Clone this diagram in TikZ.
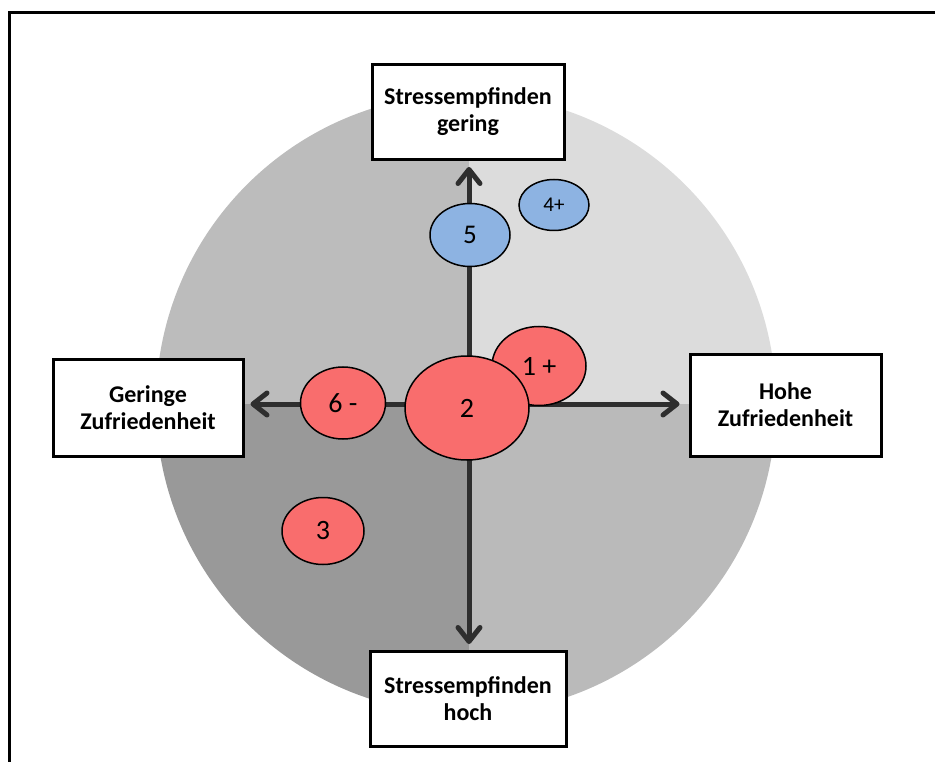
\documentclass[tikz,border=0pt]{standalone}
\usepackage{fontspec}
\setmainfont{Carlito}
\usetikzlibrary{arrows.meta,shapes.geometric}

\definecolor{quadTL}{HTML}{BCBCBC}
\definecolor{quadTR}{HTML}{DCDCDC}
\definecolor{quadBL}{HTML}{999999}
\definecolor{quadBR}{HTML}{BABABA}
\definecolor{axisgray}{HTML}{2E2E2E}
\definecolor{redfill}{HTML}{F96D6D}
\definecolor{bluefill}{HTML}{8DB3E2}

\tikzset{
  labelbox/.style={draw=black, line width=3pt, fill=white, align=center,
    inner sep=0pt, minimum width=192pt, minimum height=95pt,
    font=\bfseries\fontsize{24}{27}\selectfont},
  axisarrow/.style={draw=axisgray, line width=5pt,
    -{Straight Barb[length=14pt, width=22pt, round]}, shorten >=6pt},
  bubble/.style={ellipse, draw=black, line width=1.5pt, inner sep=0pt,
    font=\fontsize{28}{30}\selectfont},
  redbubble/.style={bubble, fill=redfill},
  bluebubble/.style={bubble, fill=bluefill}
}

\begin{document}
\begin{tikzpicture}[x=1pt, y=-1pt]
\useasboundingbox (0,0) rectangle (935,762);
\fill[white] (0,0) rectangle (935,762);

% outer frame (only the top and left edges lie inside the page)
\draw[line width=2.5pt] (9.5,762) -- (9.5,12.7) -- (935,12.7);

% four shaded quadrants of the disc
\begin{scope}
  \clip (466,404) circle[radius=310];
  \fill[quadTL] (150,88) rectangle (469,404);
  \fill[quadTR] (469,88) rectangle (782,404);
  \fill[quadBL] (150,404) rectangle (469,720);
  \fill[quadBR] (469,404) rectangle (782,720);
\end{scope}

% axis labels
\node[labelbox] (T) at (468,112) {Stressempfinden\\gering};
\node[labelbox, minimum width=196pt] (B) at (468,699) {Stressempfinden\\hoch};
\node[labelbox, minimum width=190pt, minimum height=97pt] (L) at (148,407.5) {Geringe\\Zufriedenheit};
\node[labelbox, minimum width=191pt, minimum height=102pt] (R) at (785.5,405) {Hohe\\Zufriedenheit};

% axes
\coordinate (c) at (469,404);
\draw[axisarrow] (c) -- (c |- T.south);
\draw[axisarrow] (c) -- (c |- B.north);
\draw[axisarrow] (c) -- (c -| L.east);
\draw[axisarrow, shorten >=9pt] (c) -- (c -| R.west);

% positions
\node[redbubble, minimum width=94pt, minimum height=79pt] (e1) at (539,366) {1 +};
\node[redbubble, minimum width=124pt, minimum height=104pt] (e2) at (467,408) {2};
\node[redbubble, minimum width=85pt, minimum height=72pt] (e6) at (343,403) {6 -};
\node[redbubble, minimum width=82pt, minimum height=67pt] (e3) at (323,531) {3};
\node[bluebubble, minimum width=80pt, minimum height=63pt, font=\fontsize{27}{29}\selectfont] (e5) at (470,235) {5};
\node[bluebubble, minimum width=70pt, minimum height=51pt, font=\fontsize{21}{23}\selectfont] (e4) at (554,205) {4+};
\end{tikzpicture}
\end{document}
